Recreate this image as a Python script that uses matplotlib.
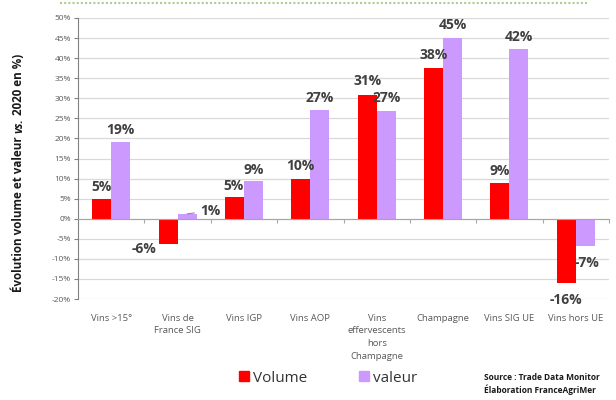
import matplotlib
matplotlib.use("Agg")
import matplotlib.pyplot as plt
from matplotlib.lines import Line2D
import matplotlib.transforms as mtransforms

categories = ["Vins >15°", "Vins de\nFrance SIG", "Vins IGP", "Vins AOP",
              "Vins\neffervescents\nhors\nChampagne", "Champagne", "Vins SIG UE", "Vins hors UE"]
volume = [4.8, -6.2, 5.4, 9.9, 30.8, 37.5, 8.8, -16.0]
valeur = [19.1, 1.2, 9.4, 27.2, 26.9, 45.0, 42.2, -6.8]
volume_labels = ["5%", "-6%", "5%", "10%", "31%", "38%", "9%", "-16%"]
valeur_labels = ["19%", "1%", "9%", "27%", "27%", "45%", "42%", "-7%"]
yticks = list(range(-20, 55, 5))

# label offsets in pixels (dx, dy) relative to bar end
vol_off = [(0, 12), (-24, -5), (-1, 11), (0, 13), (0, 14), (0, 13), (0, 12), (0, -17)]
val_off = [(0, 12), (23, 3), (0, 11), (0, 12), (0, 13), (0, 13), (0, 12), (2, -17)]

RED = "#ff0000"
PURPLE = "#cc99ff"
LBL = "#404040"
FONT = "Open Sans"

fig = plt.figure(figsize=(6.16, 4.0), dpi=100)
ax = fig.add_axes([78/616, 1-299/400, (609-78)/616, (299-18)/400])

n = len(categories)
x = list(range(n))
w = 0.286
ax.bar([i - w/2 for i in x], volume, width=w, color=RED, zorder=3, label="Volume")
ax.bar([i + w/2 for i in x], valeur, width=w, color=PURPLE, zorder=3, label="valeur")

ax.set_xlim(-0.5, n - 0.5)
ax.set_ylim(-20, 50)
ax.set_yticks(yticks)
ax.set_yticklabels([f"{t}%" for t in yticks], fontsize=6, color="#595959", family=FONT)
ax.yaxis.grid(True, color="#d9d9d9", lw=0.9, zorder=0)
ax.tick_params(axis="y", length=3, width=0.8, color="#808080", pad=2)

ax.spines["top"].set_visible(False)
ax.spines["right"].set_visible(False)
ax.spines["left"].set_color("#808080")
ax.spines["bottom"].set_position(("data", 0))
ax.spines["bottom"].set_color("#a6a6a6")
ax.spines["bottom"].set_zorder(4)
ax.set_xticks([i + 0.5 for i in x])
ax.set_xticklabels([])
ax.tick_params(axis="x", length=3, width=0.8, color="#a6a6a6", direction="out")

trans = mtransforms.blended_transform_factory(ax.transData, ax.transAxes)
for i, c in enumerate(categories):
    ax.annotate(c, xy=(i, 0), xycoords=trans, xytext=(0, -10.5), textcoords="offset points",
                ha="center", va="top", fontsize=6.8, color="#595959", family=FONT,
                linespacing=1.55)

def px(v):
    return v * 0.72

for i in x:
    v = volume[i]
    dx, dy = vol_off[i]
    ax.annotate(volume_labels[i], xy=(i - w/2, v), xytext=(px(dx), px(dy)),
                textcoords="offset points", ha="center", va="center",
                fontsize=10, fontweight="bold", color=LBL, family=FONT, zorder=5)
    v = valeur[i]
    dx, dy = val_off[i]
    if i == 1:
        ax.annotate(valeur_labels[i], xy=(i + w/2, v), xytext=(px(dx), px(dy)),
                    textcoords="offset points", ha="center", va="center",
                    fontsize=10, fontweight="bold", color=LBL, family=FONT, zorder=5,
                    arrowprops=dict(arrowstyle="-", color="#808080", lw=0.7,
                                    shrinkA=2, shrinkB=0))
    else:
        ax.annotate(valeur_labels[i], xy=(i + w/2, v), xytext=(px(dx), px(dy)),
                    textcoords="offset points", ha="center", va="center",
                    fontsize=10, fontweight="bold", color=LBL, family=FONT, zorder=5)

# y label with italic "vs."
fig.canvas.draw()
renderer = fig.canvas.get_renderer()
parts = [("Évolution volume et valeur ", "normal"), ("vs.", "italic"), (" 2020 en %)", "normal")]
texts = []
for s, st in parts:
    t = fig.text(0, 0, s, rotation=90, fontsize=8.4, fontweight="bold", style=st,
                 family=FONT, color="#1a1a1a", ha="center", va="bottom")
    texts.append(t)
heights = [t.get_window_extent(renderer).height for t in texts]
total = sum(heights)
xc = 19
yc = 400 - 173
ystart = yc - total / 2
for t, h in zip(texts, heights):
    t.set_position((xc / 616, ystart / 400))
    ystart += h

# legend
handles = [Line2D([0], [0], marker="s", ls="", color=RED, markersize=7.5),
           Line2D([0], [0], marker="s", ls="", color=PURPLE, markersize=7.5)]
fig.legend(handles, ["Volume", "valeur"], loc="center", bbox_to_anchor=(327/616, 1-378/400),
           ncol=2, frameon=False, prop={"family": FONT, "size": 11}, handletextpad=0.1,
           columnspacing=3.2, handlelength=1.0, labelcolor="#333333")

fig.text(484/616, 1-384/400, "Source : Trade Data Monitor\nÉlaboration FranceAgriMer",
         fontsize=6, fontweight="bold", family=FONT, color="#1a1a1a", ha="left",
         va="center", linespacing=1.3)

# dotted green line at top
fig.add_artist(Line2D([60/616, 587/616], [1-3/400, 1-3/400], transform=fig.transFigure,
                      color="#a9d18e", lw=1.5, ls=(0, (1, 1))))

fig.savefig("out.png", dpi=100)
